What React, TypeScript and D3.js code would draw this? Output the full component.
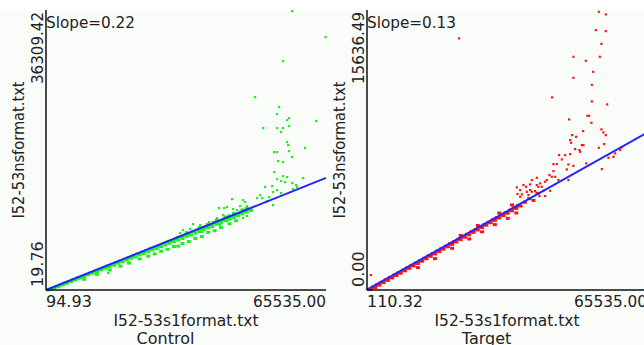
import React from 'react';
import * as d3 from 'd3';

type Pt = [number, number];

// axis ranges
const controlXDomain: [number, number] = [94.93, 65535.0];
const controlYDomain: [number, number] = [19.76, 36309.42];
const targetXDomain: [number, number] = [110.32, 65535.0];
const targetYDomain: [number, number] = [0.0, 15636.49];

const slopes = [0.222, 0.134];
const panelNames = ['Control', 'Target'];
const xTitle = 'I52-53s1format.txt';
const yTitle = 'I52-53nsformat.txt';

// Control (green) — sparse points away from the diagonal
const controlOutliers: Pt[] = [
  [57600, 36180], [65400, 32810], [55480, 29700], [48940, 25030], [54550, 23740],
  [54080, 22830], [56880, 22310], [56420, 22050], [63190, 21920], [50810, 21015],
  [54080, 21015], [55480, 21015], [55015, 20500], [56880, 21275], [56420, 19200],
  [56650, 18810], [60620, 18420], [53380, 17900], [54080, 17900], [56880, 18030],
  [57585, 17260], [54310, 16740], [55480, 16610], [53380, 15310], [55480, 14790],
  [56420, 14665], [54080, 14405], [60155, 14535], [55015, 14150], [55950, 14015],
  [57585, 13890], [58520, 13630], [51275, 13370], [52910, 13500], [54080, 12980],
  [53145, 12720], [55015, 12590], [57820, 13110], [58750, 13370], [50105, 12330],
  [49405, 11945], [50575, 11945], [52210, 12070], [51740, 11555], [53145, 11035],
  [46130, 11685], [46600, 11425], [45430, 10910], [47070, 10910], [43560, 11815],
  [42395, 10775], [41690, 10650], [43795, 10515], [44730, 10390], [45200, 10000],
  [47070, 9610], [46130, 9350], [43795, 9350], [41460, 9740], [42860, 9740],
  [42160, 9480], [40525, 10650], [40060, 9350], [39120, 8830], [40760, 8445],
  [42395, 8965], [38190, 8830], [37720, 8575], [38890, 8185], [36785, 8185],
  [34450, 8575], [36085, 8445], [35385, 7795], [36550, 7535], [33750, 7925],
  [32110, 7795], [33045, 7405], [31410, 7405], [30710, 6890], [32110, 7020],
  [33750, 7150], [14585, 2225],
];

// Control — dense band hugging the fitted line
const controlBandA: Pt[] = [
  [500, 20], [1500, 230], [2500, 450], [3500, 680], [4500, 900], [5500, 1120],
  [6500, 1340], [7500, 1570], [8500, 1780], [9500, 2010], [10500, 2230], [11500, 2450],
  [12500, 2680], [13500, 2890], [14500, 3120], [15500, 3340], [16500, 3560], [17500, 3790],
  [18500, 4000], [19500, 4230], [20500, 4450], [21500, 4680], [22500, 4890], [23500, 5120],
  [24500, 5330], [25500, 5560], [26500, 5780], [27500, 6000], [28500, 6230], [29500, 6440],
  [30500, 6670], [31500, 6890], [32500, 7110], [33500, 7340], [34500, 7550], [35500, 7780],
  [36500, 8000], [37500, 8230], [38500, 8440], [39500, 8670], [40500, 8890], [41500, 9110],
  [42500, 9340], [43500, 9550], [44500, 9780], [45500, 10000], [46500, 10220], [47500, 10450],
];
const controlBandB: Pt[] = [
  [1000, 100], [2000, 230], [3000, 450], [4000, 690], [5000, 900], [6000, 1120],
  [7000, 1350], [8000, 1560], [9000, 1780], [10000, 2000], [11000, 2200], [12000, 2400],
  [13000, 2620], [14000, 2850], [15000, 3030], [16000, 3240], [17000, 3480], [18000, 3680],
  [19000, 3890], [20000, 4120], [21000, 4310], [22000, 4560], [23000, 4760], [24000, 4970],
  [25000, 5220], [26000, 5400], [27000, 5640], [28000, 5860], [29000, 6070], [30000, 6300],
  [31000, 6510], [32000, 6700], [33000, 6970], [34000, 7160], [35000, 7410], [36000, 7590],
  [37000, 7850], [38000, 8080], [39000, 8280], [40000, 8550], [41000, 8740], [42000, 9010],
  [43000, 9190], [44000, 9440], [45000, 9660], [46000, 9900], [47000, 10130], [48000, 10340],
];
const controlBandC: Pt[] = [
  [9000, 1400], [12000, 2050], [15000, 2600], [17500, 3100], [19500, 3500], [22000, 4050],
  [24000, 4400], [25500, 4700], [27000, 5050], [28500, 5300], [30000, 5650], [31000, 5700],
  [32000, 6050], [33500, 6300], [35000, 6700], [36500, 6950], [38000, 7500], [39500, 7700],
  [41000, 8100], [43000, 8600], [44500, 9000], [40000, 9100], [42000, 9500], [44000, 9950],
  [46000, 10400], [47000, 10600], [36000, 8100], [33000, 7450],
];

// Target (red)
const targetOutliers: Pt[] = [
  [54260, 15540], [55890, 15395], [53560, 14518], [55890, 14463], [54870, 13754],
  [48320, 13028], [51220, 12804], [54490, 13028], [52930, 12190], [48320, 11855],
  [52620, 11464], [43345, 10760], [52620, 10537], [56200, 10370], [51590, 9733],
  [51990, 9733], [47320, 9532], [52530, 9342], [50590, 8879], [54870, 8974],
  [55330, 8806], [55890, 8655], [48020, 8655], [48950, 8560], [47550, 8376],
  [47785, 8225], [50285, 8097], [50660, 8097], [55500, 8153], [54260, 7946],
  [48720, 7873], [49725, 7818], [44980, 7538], [46380, 7538], [47550, 7594],
  [49890, 7723], [45610, 7298], [58070, 7633], [57670, 7443], [56500, 7388],
  [59630, 7968], [59240, 7818], [43650, 7036], [44440, 7036], [47150, 7019],
  [48320, 6941], [51290, 7075], [46780, 6740], [54960, 6757], [43650, 6645],
  [42710, 6422], [43270, 6327], [44050, 6327], [39770, 6271], [38600, 6142],
  [42110, 6142], [41710, 6047], [44820, 6142], [47150, 6142], [40540, 5958],
  [39770, 5863], [40140, 5768], [40940, 5768], [38200, 5902], [37270, 5768],
  [36640, 5863], [38200, 5584], [35095, 5735], [35870, 5584], [36265, 5344],
  [37430, 5489], [37805, 5305], [38600, 5489], [39370, 5528], [39770, 5400],
  [40375, 5249], [41710, 5249], [41310, 5545], [42880, 5545], [35235, 5361],
  [35870, 5210], [21610, 14055], [975, 838],
];
const targetBandA: Pt[] = [
  [500, 30], [1500, 160], [2500, 295], [3500, 430], [4500, 560], [5500, 700],
  [6500, 830], [7500, 965], [8500, 1100], [9500, 1235], [10500, 1365], [11500, 1500],
  [12500, 1635], [13500, 1770], [14500, 1905], [15500, 2035], [16500, 2170], [17500, 2305],
  [18500, 2440], [19500, 2575], [20500, 2705], [21500, 2840], [22500, 2975], [23500, 3110],
  [24500, 3245], [25500, 3375], [26500, 3510], [27500, 3645], [28500, 3780], [29500, 3915],
  [30500, 4045], [31500, 4180], [32500, 4315], [33500, 4450], [34500, 4585], [35500, 4715],
];
const targetBandB: Pt[] = [
  [1000, 40], [2000, 140], [3000, 270], [4000, 410], [5000, 540], [6000, 675],
  [7000, 810], [8000, 940], [9000, 1075], [10000, 1210], [11000, 1345], [12000, 1480],
  [13000, 1610], [14000, 1745], [15000, 1880], [16000, 2015], [17000, 2150], [18000, 2280],
  [19000, 2415], [20000, 2550], [21000, 2685], [22000, 2820], [23000, 2950], [24000, 3085],
  [25000, 3220], [26000, 3355], [27000, 3490], [28000, 3620], [29000, 3755], [30000, 3890],
  [31000, 4025], [32000, 4160], [33000, 4290], [34000, 4425], [35000, 4560], [36000, 4690],
];
const targetBandC: Pt[] = [
  [12000, 1250], [16000, 1750], [20000, 2330], [24000, 2850], [27000, 3250], [30000, 3650],
  [33000, 4000], [35000, 4300], [22000, 3050], [26000, 3600], [31000, 4300], [34000, 4750],
  [37000, 4900], [38000, 5100], [39000, 5000], [40000, 5400],
];

const W = 644;
const H = 345;
const margin = { top: 10, left: 46, right: 5, bottom: 55 };
const panelW = 331;
const innerW = panelW - margin.left - margin.right;
const innerH = H - margin.top - margin.bottom;
const textColor = '#222';
const font = 'DejaVu Sans, sans-serif';

interface PanelProps {
  x0: number;
  xDomain: [number, number];
  yDomain: [number, number];
  points: Pt[];
  band: Pt[];
  color: string;
  slope: number;
  name: string;
}

const fmt = (v: number) => v.toFixed(2);

const Panel: React.FC<PanelProps> = ({ x0, xDomain, yDomain, points, band, color, slope, name }) => {
  const x = d3.scaleLinear().domain(xDomain).range([0, innerW]);
  const y = d3.scaleLinear().domain(yDomain).range([innerH, 0]);

  const xEnd = Math.min(xDomain[1], yDomain[1] / slope);
  const line = d3.line<number>().x(d => x(d)).y(d => y(slope * d));
  const fitPath = line([xDomain[0], xEnd]) || '';

  return (
    <g transform={`translate(${x0 + margin.left},${margin.top})`} fontFamily={font} fill={textColor}>
      {band.map((d, i) => (
        <rect key={`b${i}`} x={x(d[0]) - 2} y={y(d[1]) - 1.5} width={4} height={3} fill={color} />
      ))}
      {points.map((d, i) => (
        <rect key={`p${i}`} x={x(d[0]) - 1} y={y(d[1]) - 1} width={2.2} height={2.2} fill={color} />
      ))}
      <path d={fitPath} stroke="#2424ff" strokeWidth={2} fill="none" />

      {/* axes */}
      <line x1={0} x2={0} y1={0} y2={innerH} stroke="#111" strokeWidth={1.5} />
      <line x1={0} x2={innerW} y1={innerH} y2={innerH} stroke="#111" strokeWidth={1.5} />

      <text x={0} y={18} fontSize={16} textLength={89} lengthAdjust="spacingAndGlyphs">
        {`Slope=${slope.toFixed(2)}`}
      </text>

      {/* y tick labels */}
      <text transform={`translate(-3,2) rotate(-90)`} textAnchor="end" fontSize={16}
        textLength={72} lengthAdjust="spacingAndGlyphs">
        {fmt(yDomain[1])}
      </text>
      <text transform={`translate(-3,${innerH - 3}) rotate(-90)`} textAnchor="start" fontSize={16}>
        {fmt(yDomain[0])}
      </text>
      <text transform={`translate(-22,${innerH / 2}) rotate(-90)`} textAnchor="middle" fontSize={16}
        textLength={137} lengthAdjust="spacingAndGlyphs">
        {yTitle}
      </text>

      {/* x tick labels */}
      <text x={0} y={innerH + 17} fontSize={16}>{fmt(xDomain[0])}</text>
      <text x={innerW} y={innerH + 17} textAnchor="end" fontSize={16}
        textLength={73} lengthAdjust="spacingAndGlyphs">
        {fmt(xDomain[1])}
      </text>
      <text x={innerW / 2} y={innerH + 36} textAnchor="middle" fontSize={16}
        textLength={145} lengthAdjust="spacingAndGlyphs">
        {xTitle}
      </text>
      <text x={panelW / 2 - margin.left} y={innerH + 54} textAnchor="middle" fontSize={16}>
        {name}
      </text>
    </g>
  );
};

const App: React.FC = () => {
  return (
    <svg width={W} height={H} style={{ position: 'absolute', left: 0, top: 0 }}>
      <rect x={0} y={0} width={W} height={H} fill="#fff" />
      <rect x={0} y={margin.top} width={W} height={H - margin.top} fill="#fafcfa" />
      <Panel
        x0={0}
        xDomain={controlXDomain}
        yDomain={controlYDomain}
        points={controlOutliers}
        band={[...controlBandA, ...controlBandB, ...controlBandC]}
        color="#1ef01e"
        slope={slopes[0]}
        name={panelNames[0]}
      />
      <Panel
        x0={321}
        xDomain={targetXDomain}
        yDomain={targetYDomain}
        points={targetOutliers}
        band={[...targetBandA, ...targetBandB, ...targetBandC]}
        color="#ff1414"
        slope={slopes[1]}
        name={panelNames[1]}
      />
    </svg>
  );
};

export default App;
